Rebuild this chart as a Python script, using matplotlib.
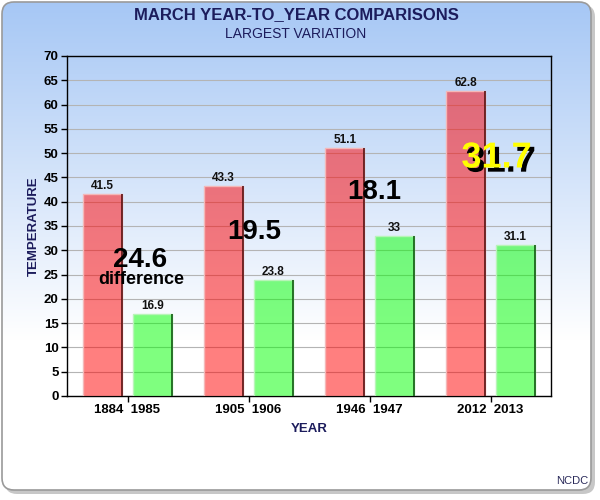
import numpy as np
import matplotlib
matplotlib.use('Agg')
import matplotlib.pyplot as plt
from matplotlib.patches import FancyBboxPatch
import matplotlib.patheffects as pe

plt.rcParams['font.family'] = ['Liberation Sans', 'DejaVu Sans']

# data
first_years = ['1884', '1905', '1946', '2012']
second_years = ['1985', '1906', '1947', '2013']
first_temps = [41.5, 43.3, 51.1, 62.8]
second_temps = [16.9, 23.8, 33, 31.1]
first_labels = ['41.5', '43.3', '51.1', '62.8']
second_labels = ['16.9', '23.8', '33', '31.1']
diff_labels = ['24.6', '19.5', '18.1', '31.7']
diff_pos_x = [0.10, 1.05, 2.04, 3.05]
diff_pos_y = [27.9, 33.7, 42.1, 49.0]

navy = '#1c1c5c'

fig = plt.figure(figsize=(6, 5), dpi=100)
fig.patch.set_facecolor('white')

# background panel with gradient and shadow
bg = fig.add_axes([0, 0, 1, 1])
bg.set_xlim(0, 600)
bg.set_ylim(500, 0)
bg.axis('off')
shadow = FancyBboxPatch((5, 5), 590, 489, boxstyle='round,pad=0,rounding_size=12',
                        facecolor='#9a9a9a', edgecolor='none', alpha=0.55)
bg.add_patch(shadow)
panel = FancyBboxPatch((2, 2), 589, 488, boxstyle='round,pad=0,rounding_size=12',
                       facecolor='white', edgecolor='#9a9a9a', lw=1.2)
bg.add_patch(panel)
top = np.array([0.65, 0.78, 0.96])
t = np.clip(np.linspace(0, 500, 500) / 340.0, 0, 1)[:, None]
grad = top[None, :] * (1 - t) + np.ones(3)[None, :] * t
img = bg.imshow(grad[:, None, :], extent=[0, 600, 500, 0], aspect='auto', zorder=1)
img.set_clip_path(panel)
panel.set_zorder(2)
panel.set_facecolor('none')

# main chart
ax = fig.add_axes([67 / 600, 104 / 500, 484 / 600, 340 / 500])
ax.set_facecolor('none')
x = np.arange(len(first_years))
w = 0.32
off = 0.205

ax.bar(x - off, first_temps, w, color=(1, 0, 0, 0.5), edgecolor='#f4b8b8', lw=1, zorder=3)
ax.bar(x + off, second_temps, w, color=(0, 1, 0, 0.5), edgecolor='#b8f4b8', lw=1, zorder=3)
ax.vlines(x - off + w / 2, 0, first_temps, color='#5a1010', lw=1.2, zorder=4)
ax.vlines(x + off + w / 2, 0, second_temps, color='#105a10', lw=1.2, zorder=4)

for i in range(len(x)):
    ax.text(x[i] - off, first_temps[i] + 0.4, first_labels[i], ha='center', va='bottom',
            fontsize=8.5, fontweight='bold', color='#111111', zorder=5)
    ax.text(x[i] + off, second_temps[i] + 0.4, second_labels[i], ha='center', va='bottom',
            fontsize=8.5, fontweight='bold', color='#111111', zorder=5)

for i in range(3):
    ax.text(diff_pos_x[i], diff_pos_y[i], diff_labels[i], ha='center', va='center',
            fontsize=20, fontweight='bold', color='black', zorder=6)
ax.text(0.11, 23.9, 'difference', ha='center', va='center', fontsize=13,
        fontweight='bold', color='black', zorder=6)
ax.text(diff_pos_x[3], diff_pos_y[3], diff_labels[3], ha='center', va='center',
        fontsize=26, fontweight='bold', color='#ffff00', zorder=6,
        path_effects=[pe.withSimplePatchShadow(offset=(3, -3), shadow_rgbFace='black', alpha=1)])

ax.set_xlim(-0.5, 3.5)
ax.set_ylim(0, 70)
ax.set_yticks(np.arange(0, 71, 5))
ax.set_xticks(x)
ax.set_xticklabels([a + '  ' + b for a, b in zip(first_years, second_years)])
ax.tick_params(axis='both', labelsize=9.5, length=4, width=1, color='black', pad=2)
for lbl in ax.get_xticklabels() + ax.get_yticklabels():
    lbl.set_fontweight('bold')
ax.yaxis.grid(True, color='#b4b4b4', lw=0.8, zorder=0)
ax.set_axisbelow(True)
for s in ax.spines.values():
    s.set_color('black')
    s.set_linewidth(1)

ax.set_ylabel('TEMPERATURE', fontsize=9.5, fontweight='bold', color=navy, labelpad=3)
ax.set_xlabel('YEAR', fontsize=9.5, fontweight='bold', color=navy, labelpad=5)

fig.text(296 / 600, 1 - 15 / 500, 'MARCH YEAR-TO_YEAR COMPARISONS', ha='center', va='center',
         fontsize=12, fontweight='bold', color=navy)
fig.text(296 / 600, 1 - 34 / 500, 'LARGEST VARIATION', ha='center', va='center',
         fontsize=10, color=navy)
fig.text(588 / 600, 1 - 486 / 500, 'NCDC', ha='right', va='bottom', fontsize=8, color='#2a2a5a')

fig.savefig('out.png', dpi=100)
